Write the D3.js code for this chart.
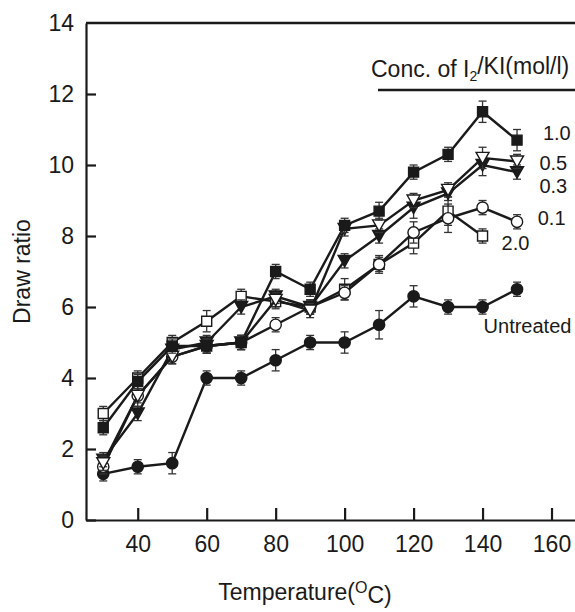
<!DOCTYPE html>
<html>
<meta charset="utf-8">
<style>
    body { margin: 0; background: #fff; }
    svg { font-family: "Liberation Sans", Arial, sans-serif; }
    .line { fill: none; stroke: #1a1a1a; stroke-width: 2.4px; }
    .err { stroke: #333; stroke-width: 1.3px; }
    .axis path, .axis line { stroke: #1a1a1a; stroke-width: 2.2px; }
    .axis text { font-size: 23px; fill: #1a1a1a; }
</style>
<body>
<script src="https://d3js.org/d3.v7.min.js"></script>
<script>

    // temperatures (deg C)
    var temps = [30, 40, 50, 60, 70, 80, 90, 100, 110, 120, 130, 140, 150];

    // draw ratio for each I2/KI concentration
    var conc10 = [2.6, 3.9, 4.9, 4.9, 5.0, 7.0, 6.5, 8.3, 8.7, 9.8, 10.3, 11.5, 10.7];
    var conc05 = [1.6, 3.5, 4.6, 4.9, 5.0, 6.2, 5.9, 8.2, 8.3, 9.0, 9.3, 10.2, 10.1];
    var conc03 = [1.7, 3.0, 4.8, 5.0, 6.0, 6.3, 6.0, 7.3, 8.0, 8.8, 9.2, 10.0, 9.8];
    var conc01 = [1.5, 3.5, 4.6, 4.9, 5.0, 5.5, 6.0, 6.4, 7.2, 8.1, 8.5, 8.8, 8.4];
    var conc20 = [3.0, 4.0, 5.0, 5.6, 6.3, 6.15, 6.0, 6.5, 7.2, 7.8, 8.7, 8.0];
    var untreated = [1.3, 1.5, 1.6, 4.0, 4.0, 4.5, 5.0, 5.0, 5.5, 6.3, 6.0, 6.0, 6.5];

    // error bar half-widths
    var err10 = [0.2, 0.2, 0.2, 0.2, 0.2, 0.2, 0.2, 0.2, 0.25, 0.2, 0.2, 0.3, 0.3];
    var err05 = [0.2, 0.2, 0.2, 0.2, 0.2, 0.2, 0.2, 0.2, 0.2, 0.2, 0.2, 0.3, 0.2];
    var err03 = [0.2, 0.2, 0.2, 0.2, 0.2, 0.2, 0.2, 0.2, 0.2, 0.3, 0.2, 0.3, 0.2];
    var err01 = [0.2, 0.3, 0.2, 0.2, 0.2, 0.2, 0.2, 0.2, 0.2, 0.3, 0.4, 0.2, 0.2];
    var err20 = [0.2, 0.2, 0.2, 0.3, 0.2, 0.2, 0.2, 0.3, 0.25, 0.3, 0.4, 0.2];
    var errUn = [0.2, 0.2, 0.3, 0.2, 0.2, 0.3, 0.2, 0.3, 0.4, 0.3, 0.2, 0.2, 0.2];

    var xTicks = [40, 60, 80, 100, 120, 140, 160];
    var yTicks = [0, 2, 4, 6, 8, 10, 12];
    var yTickLabels = [0, 2, 4, 6, 8, 10, 12, 14];

    var series = [
        { name: "Untreated", vals: untreated, err: errUn, shape: "circle", fill: "#1a1a1a" },
        { name: "2.0", vals: conc20, err: err20, shape: "square", fill: "#fff" },
        { name: "0.1", vals: conc01, err: err01, shape: "circle", fill: "#fff" },
        { name: "0.3", vals: conc03, err: err03, shape: "triangle", fill: "#1a1a1a" },
        { name: "0.5", vals: conc05, err: err05, shape: "triangle", fill: "#fff" },
        { name: "1.0", vals: conc10, err: err10, shape: "square", fill: "#1a1a1a" }
    ];

    var W = 575, H = 612;

    var x = d3.scaleLinear().domain([25, 170]).range([86, 586]);
    var y = d3.scaleLinear().domain([0, 14]).range([520, 23]);

    var svg = d3.select("body").append("svg")
        .attr("width", W)
        .attr("height", H);

    // axes
    svg.append("g")
        .attr("class", "axis")
        .attr("transform", "translate(0," + y(0) + ")")
        .call(d3.axisBottom(x).tickValues(xTicks).tickSizeInner(-12).tickSizeOuter(0).tickPadding(16));

    svg.append("g")
        .attr("class", "axis")
        .attr("transform", "translate(" + x(25) + ",0)")
        .call(d3.axisLeft(y).tickValues(yTicks).tickSizeInner(-10).tickSizeOuter(0).tickPadding(12).tickFormat(d3.format("d")));

    // top label (14) has no tick, top border line
    svg.append("text")
        .attr("x", x(25) - 12)
        .attr("y", y(14))
        .attr("dy", "0.35em")
        .attr("text-anchor", "end")
        .style("font-size", "23px")
        .attr("fill", "#1a1a1a")
        .text(yTickLabels[7]);

    svg.append("line")
        .attr("x1", x(25)).attr("x2", x(170))
        .attr("y1", y(14)).attr("y2", y(14))
        .attr("stroke", "#1a1a1a").attr("stroke-width", 2.4);

    // axis titles
    svg.append("text")
        .attr("transform", "translate(30," + ((y(0) + y(14)) / 2) + ") rotate(-90)")
        .attr("text-anchor", "middle")
        .style("font-size", "23px")
        .attr("fill", "#1a1a1a")
        .text("Draw ratio");

    var xt = svg.append("text")
        .attr("x", 305)
        .attr("y", 600)
        .attr("text-anchor", "middle")
        .style("font-size", "23px")
        .attr("fill", "#1a1a1a");
    xt.append("tspan").text("Temperature(");
    xt.append("tspan").attr("dy", "-0.45em").style("font-size", "16px").text("O");
    xt.append("tspan").attr("dy", "0.45em").text("C)");

    // legend heading
    var lg = svg.append("text")
        .attr("x", 371)
        .attr("y", 77)
        .style("font-size", "23px")
        .attr("fill", "#1a1a1a");
    lg.append("tspan").text("Conc. of I");
    lg.append("tspan").attr("dy", "0.3em").style("font-size", "14px").text("2");
    lg.append("tspan").attr("dy", "-0.3em").text("/KI(mol/l)");

    svg.append("line")
        .attr("x1", 378).attr("x2", W)
        .attr("y1", 90).attr("y2", 90)
        .attr("stroke", "#1a1a1a").attr("stroke-width", 2.4);

    var line = d3.line()
        .x(function (d) { return x(d.t); })
        .y(function (d) { return y(d.v); });

    function shapePath(shape) {
        if (shape === "square") return "M-5,-5H5V5H-5Z";
        if (shape === "triangle") return "M-6.5,-5.5H6.5L0,6Z";
        return d3.symbol().type(d3.symbolCircle).size(100)();
    }

    series.forEach(function (s) {
        var pts = s.vals.map(function (v, i) { return { t: temps[i], v: v, e: s.err[i] }; });

        svg.append("path")
            .datum(pts)
            .attr("class", "line")
            .attr("d", line);

        var eb = svg.append("g").selectAll("g")
            .data(pts).enter().append("g")
            .attr("class", "err");
        eb.append("line")
            .attr("x1", function (d) { return x(d.t); })
            .attr("x2", function (d) { return x(d.t); })
            .attr("y1", function (d) { return y(d.v - d.e); })
            .attr("y2", function (d) { return y(d.v + d.e); });
        [-1, 1].forEach(function (k) {
            eb.append("line")
                .attr("x1", function (d) { return x(d.t) - 4; })
                .attr("x2", function (d) { return x(d.t) + 4; })
                .attr("y1", function (d) { return y(d.v + k * d.e); })
                .attr("y2", function (d) { return y(d.v + k * d.e); });
        });

        svg.append("g").selectAll("path")
            .data(pts).enter().append("path")
            .attr("transform", function (d) { return "translate(" + x(d.t) + "," + y(d.v) + ")"; })
            .attr("d", shapePath(s.shape))
            .attr("fill", s.fill)
            .attr("stroke", "#1a1a1a")
            .attr("stroke-width", 1.4);
    });

    // series labels
    var labels = [
        { text: "1.0", t: 157.5, v: 10.7 },
        { text: "0.5", t: 156.5, v: 9.85 },
        { text: "0.3", t: 156.5, v: 9.2 },
        { text: "0.1", t: 156, v: 8.3 },
        { text: "2.0", t: 145.5, v: 7.6 },
        { text: "Untreated", t: 140.3, v: 5.27 }
    ];
    svg.append("g").selectAll("text")
        .data(labels).enter().append("text")
        .attr("x", function (d) { return x(d.t); })
        .attr("y", function (d) { return y(d.v); })
        .style("font-size", "20px")
        .attr("fill", "#1a1a1a")
        .text(function (d) { return d.text; });

</script>
</body>
</html>
